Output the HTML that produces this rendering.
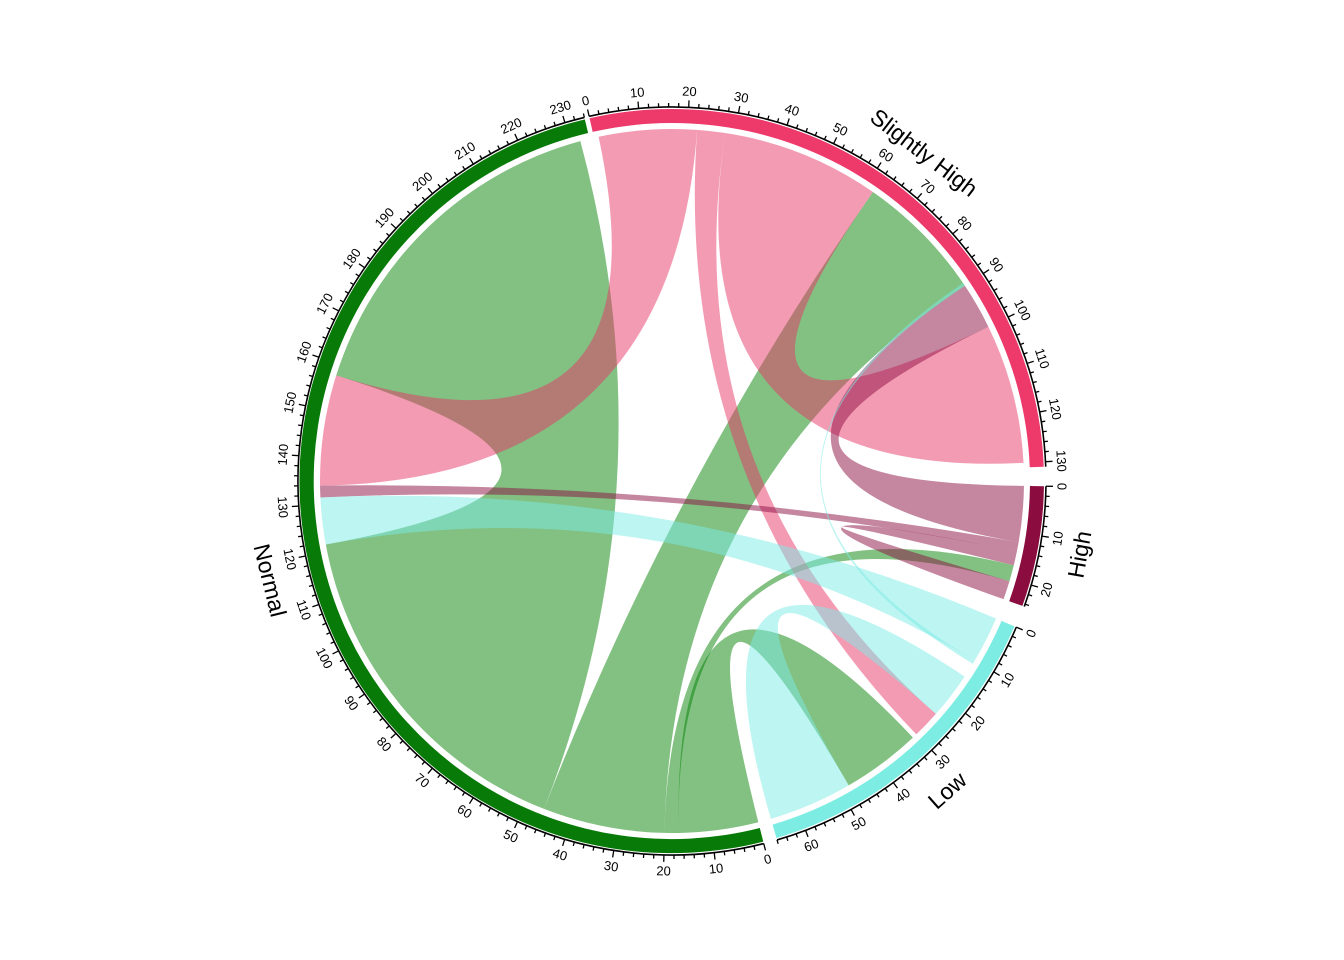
<!DOCTYPE html>
<html><head><meta charset="utf-8"><style>
html,body{margin:0;padding:0;background:#fff;}
svg{display:block;font-family:"Liberation Sans",sans-serif;}
</style></head><body>
<svg id="s" width="1344" height="960" xmlns="http://www.w3.org/2000/svg"></svg>
<script>
var cx=672,cy=481;
var R1=358,R2=372,RA=374,RC=352;
var secs={
 SH:{st:-12.8,u:0.768,len:131,col:"#EE3A6B",name:"Slightly High"},
 HI:{st:90.8,u:0.768,len:24.5,col:"#8B0D3F",name:"High"},
 LO:{st:113,u:0.768,len:66,col:"#7DEDE4",name:"Low"},
 NO:{st:165.8,u:0.772,len:234,col:"#087A08",name:"Normal"}
};
function ang(s,v){return secs[s].st+v*secs[s].u;}
function pt(t,r){var a=t*Math.PI/180;return [cx+r*Math.sin(a),cy-r*Math.cos(a)];}
function f(p){return p[0].toFixed(2)+","+p[1].toFixed(2);}
var out="";
var CG="rgba(0,128,0,0.49)",CP="rgba(232,51,101,0.49)",CH="rgba(139,13,63,0.5)",CL="rgba(123,235,229,0.5)";
var links=[
 ["NO",46,121.5,"NO",157.6,232,CG],
 ["NO",20,46,"SH",62,90,CG],
 ["NO",0,17,"LO",31,48,CG],
 ["NO",17,20,"HI",17,20.5,CG],
 ["NO",134,157.6,"SH",1,22,CP],
 ["SH",22,28,"LO",24,30,CP],
 ["SH",28,62,"SH",100,130,CP],
 ["HI",0,12,"SH",90,100,CH],
 ["NO",131.5,134,"HI",12,14,CH],
 ["HI",14,17,"HI",20.5,24.5,CH],
 ["NO",121.5,131.5,"LO",0,10,CL],
 ["LO",10,10.8,"SH",89.3,90,CL],
 ["LO",14,24,"LO",48,66,CL]
];
links.forEach(function(l){
 var a1=ang(l[0],l[1]),a2=ang(l[0],l[2]),b1=ang(l[3],l[4]),b2=ang(l[3],l[5]);
 var A1=pt(a1,RC),A2=pt(a2,RC),B1=pt(b1,RC),B2=pt(b2,RC);
 var la=(a2-a1)>180?1:0,lb=(b2-b1)>180?1:0;
 out+='<path d="M'+f(A1)+' A'+RC+','+RC+' 0 '+la+' 1 '+f(A2)+' Q'+cx+','+cy+' '+f(B1)+' A'+RC+','+RC+' 0 '+lb+' 1 '+f(B2)+' Q'+cx+','+cy+' '+f(A1)+'Z" fill="'+l[6]+'" stroke="none"/>';
});
for(var k in secs){
 var s=secs[k],t0=s.st,t1=ang(k,s.len);
 var p1=pt(t0,R2),p2=pt(t1,R2),p3=pt(t1,R1),p4=pt(t0,R1);
 var lg=(t1-t0)>180?1:0;
 out+='<path d="M'+f(p1)+' A'+R2+','+R2+' 0 '+lg+' 1 '+f(p2)+' L'+f(p3)+' A'+R1+','+R1+' 0 '+lg+' 0 '+f(p4)+'Z" fill="'+s.col+'"/>';
 out+='<path d="M'+f(pt(t0,RA))+' A'+RA+','+RA+' 0 '+lg+' 1 '+f(pt(t1,RA))+'" fill="none" stroke="#000" stroke-width="1.6"/>';
 for(var v=0;v<=s.len+0.01;v+=2){
  var t=ang(k,v),major=(v%10===0);
  var q1=pt(t,RA),q2=pt(t,RA+(major?7:4));
  out+='<line x1="'+q1[0].toFixed(2)+'" y1="'+q1[1].toFixed(2)+'" x2="'+q2[0].toFixed(2)+'" y2="'+q2[1].toFixed(2)+'" stroke="#000" stroke-width="1.3"/>';
  if(major){
   var tn=((t%360)+360)%360;
   var lp=pt(t,RA+16);
   var rot=(tn>90&&tn<270)?tn-180:tn;
   out+='<text x="'+lp[0].toFixed(2)+'" y="'+lp[1].toFixed(2)+'" font-size="13" text-anchor="middle" dominant-baseline="central" transform="rotate('+rot.toFixed(2)+' '+lp[0].toFixed(2)+' '+lp[1].toFixed(2)+')">'+v+'</text>';
  }
 }
 var tm=(t0+t1)/2,tmn=((tm%360)+360)%360;
 var np=pt(tm,RA+40);
 var nr=(tmn>90&&tmn<270)?tmn-180:tmn;
 out+='<text x="'+np[0].toFixed(2)+'" y="'+np[1].toFixed(2)+'" font-size="23" text-anchor="middle" dominant-baseline="central" transform="rotate('+nr.toFixed(2)+' '+np[0].toFixed(2)+' '+np[1].toFixed(2)+')">'+s.name+'</text>';
}
document.getElementById("s").innerHTML=out;
</script>
</body></html>
